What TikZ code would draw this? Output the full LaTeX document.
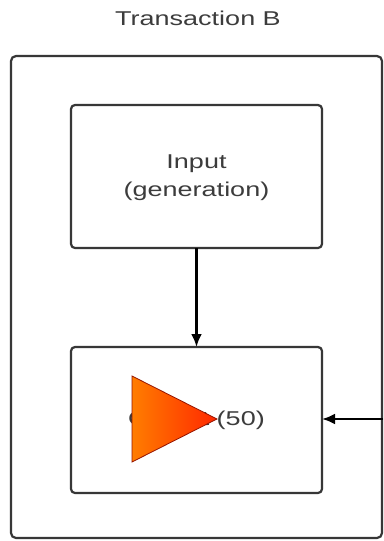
\documentclass[tikz,border=0pt]{standalone}
\usepackage{fontspec}
\setmainfont{Liberation Sans}
\usetikzlibrary{arrows.meta}
\definecolor{framegray}{RGB}{55,55,55}
\definecolor{textgray}{RGB}{60,60,60}
\definecolor{triorange}{RGB}{255,125,0}
\definecolor{trired}{RGB}{255,40,0}
\definecolor{triborder}{RGB}{150,20,0}
\newcommand{\wtext}[1]{\scalebox{1.35}[1]{#1}}
\begin{document}
\begin{tikzpicture}[x=1pt,y=-1pt,
  boxstyle/.style={draw=framegray,line width=2.2pt,rounded corners=4pt,fill=white},
  lbl/.style={text=textgray,font=\fontsize{20}{28}\selectfont,align=center,inner sep=0pt},
  conn/.style={draw=black,line width=2.6pt,-{Latex[length=13pt,width=11pt]}}]
\useasboundingbox (0,0) rectangle (383,541);
\fill[white] (0,0) rectangle (383,541);
\draw[framegray,line width=2.2pt,rounded corners=5pt] (11,56) rectangle (382,538);
\node[lbl] (title) at (198,18) {\wtext{Transaction B}};
\path[boxstyle] (71,105) rectangle (322,248);
\coordinate (inN) at (196.5,105);
\coordinate (inS) at (196.5,248);
\node[lbl] (inlbl) at (196.5,178) {\wtext{Input}\\\wtext{(generation)}};
\path[boxstyle] (71,347) rectangle (322,493);
\coordinate (outN) at (196.5,347);
\coordinate (outE) at (322,419);
\coordinate (ext) at (383,419);
\node[lbl] (outlbl) at (196.5,420) {\wtext{Output (50)}};
\draw[conn] (inS) -- (outN);
\draw[conn] (ext) -- (outE);
\shade[left color=triorange,right color=trired,draw=triborder,line width=0.8pt]
  (132,376) -- (132,462) -- (217,419) -- cycle;
\end{tikzpicture}
\end{document}
